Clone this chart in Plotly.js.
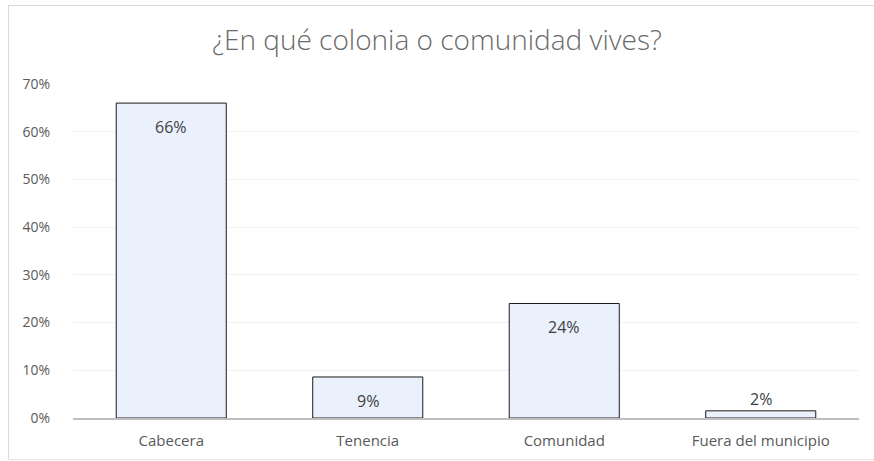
<!DOCTYPE html>
<html><head><meta charset="utf-8">
<script src="https://cdn.plot.ly/plotly-3.0.1.min.js"></script>
<style>
html,body{margin:0;padding:0;background:#fff;}
#frame{position:absolute;left:8px;top:5px;width:880px;height:453px;border-top:1px solid #d9d9d9;border-left:1px solid #d9d9d9;border-bottom:1px solid #e4e4e4;}
#chart{position:absolute;left:0;top:0;width:874px;height:461px;}
</style></head>
<body>
<div id="frame"></div>
<div id="chart"></div>
<script>
const categories = ["Cabecera", "Tenencia", "Comunidad", "Fuera del municipio"];
const values = [0.66, 0.086, 0.24, 0.015];
const labels = ["66%", "9%", "24%", "2%"];
const yTickVals = [0, 0.1, 0.2, 0.3, 0.4, 0.5, 0.6, 0.7];
const yTickText = ["0%", "10%", "20%", "30%", "40%", "50%", "60%", "70%"];

const FONT = "Open Sans, Noto Sans, sans-serif";

const trace = {
  type: "bar",
  x: categories,
  y: values,
  marker: {color: "#eaf1fd", line: {color: "#1a1a1a", width: 1}},
  hoverinfo: "none"
};

const annotations = categories.map((c, i) => ({
  x: c, y: values[i], xref: "x", yref: "y",
  text: labels[i], showarrow: false,
  yshift: values[i] > 0.05 ? -24 : 12,
  font: {family: FONT, size: 16, color: "#404040"}
}));

const layout = {
  width: 874, height: 461,
  paper_bgcolor: "rgba(0,0,0,0)", plot_bgcolor: "rgba(0,0,0,0)",
  margin: {l: 73, r: 15, t: 84, b: 43},
  title: {text: "¿En qué colonia o comunidad vives?", x: 0.5, xanchor: "center", y: 0.913, yanchor: "middle",
          font: {family: FONT, size: 28, color: "#6a6a6a", weight: 300}},
  bargap: 0.44,
  showlegend: false,
  xaxis: {
    type: "category",
    showline: true, linecolor: "#bfbfbf", linewidth: 2,
    showgrid: false, ticks: "",
    ticklabelstandoff: 8,
    tickfont: {family: FONT, size: 15, color: "#595959"},
    fixedrange: true
  },
  yaxis: {
    range: [0, 0.7],
    tickvals: yTickVals, ticktext: yTickText,
    showgrid: true, gridcolor: "#f2f2f2", gridwidth: 1,
    zeroline: false, showline: false, ticks: "",
    ticklabelstandoff: 22,
    tickfont: {family: FONT, size: 14, color: "#595959"},
    fixedrange: true
  },
  annotations: annotations
};

Plotly.newPlot("chart", [trace], layout, {displayModeBar: false, staticPlot: true});
</script>
</body></html>
